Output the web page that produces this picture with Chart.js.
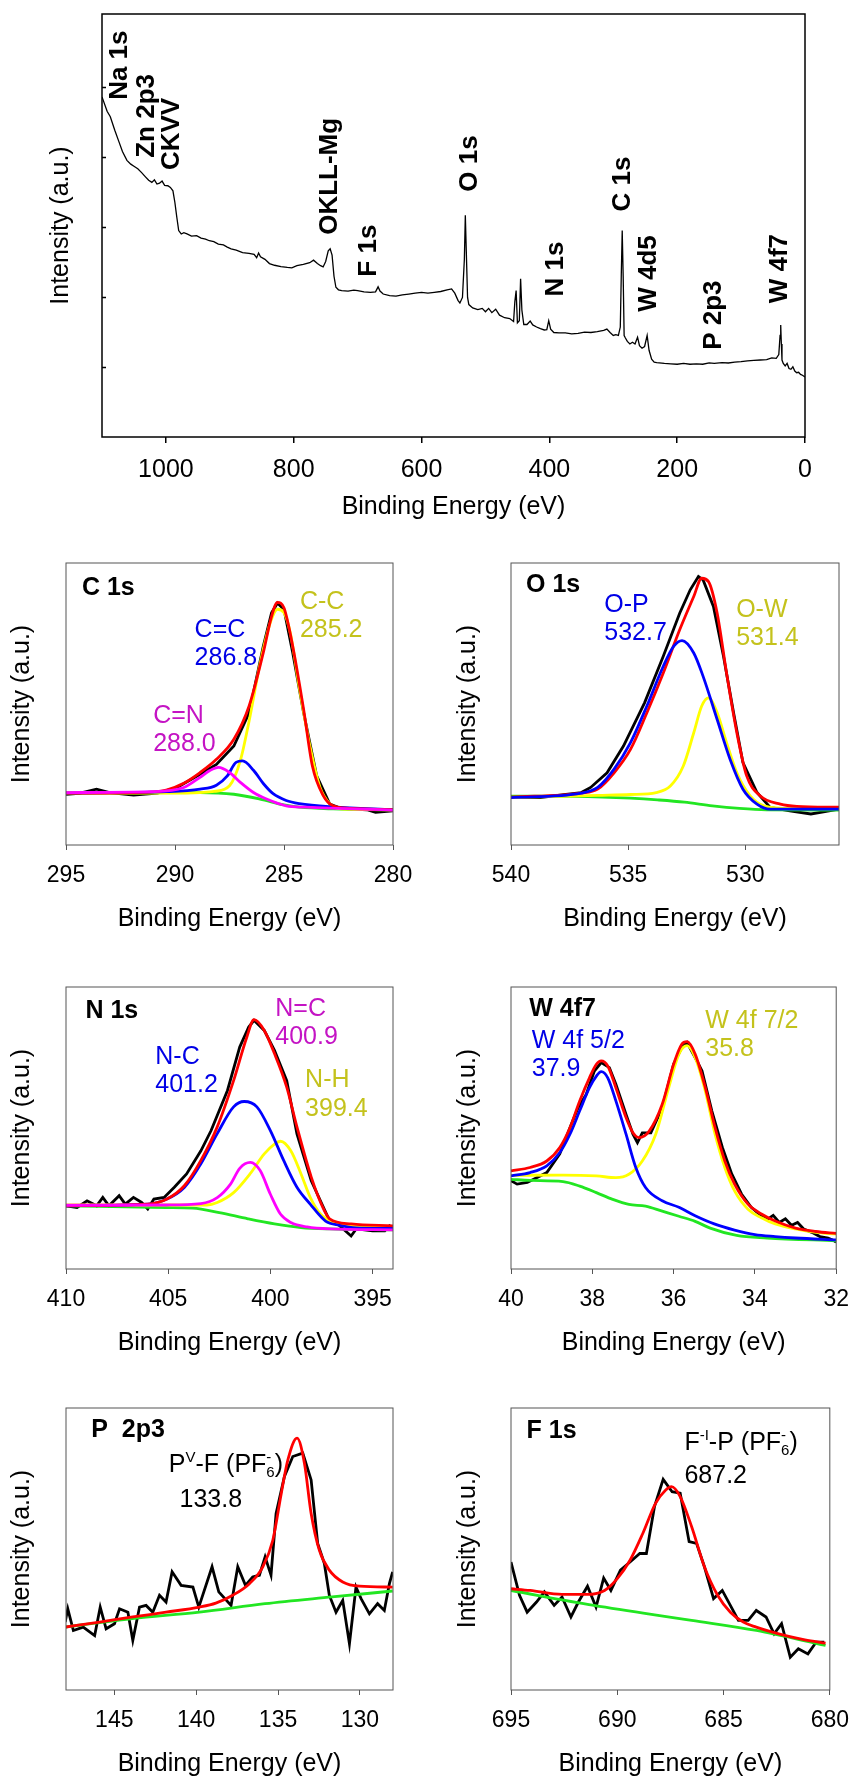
<!DOCTYPE html>
<html>
<head>
<meta charset="utf-8">
<script src="https://cdn.jsdelivr.net/npm/chart.js@4.4.1/dist/chart.umd.min.js"></script>
<style>
  body { margin: 0; background: #fff; width: 861px; height: 1780px; position: relative; overflow: hidden; }
  canvas { position: absolute; }
</style>
</head>
<body>
<canvas id="survey"></canvas>
<canvas id="c1s"></canvas>
<canvas id="o1s"></canvas>
<canvas id="n1s"></canvas>
<canvas id="w4f"></canvas>
<canvas id="p2p"></canvas>
<canvas id="f1s"></canvas>
<script>
// XPS spectra: [binding energy (eV), intensity (a.u., 0-100)]

// Survey
const surveyData = [
  [1100,80.4],[1092,77],[1087,75.7],[1080,72.5],[1074,70],[1068,67.5],[1061,65.4],[1055,64.5],[1050,64],[1044,63.4],
  [1038,62.5],[1032,61.5],[1027,60.7],[1022,60.2],[1018,60.8],[1014,59.8],[1010,60.0],[1006,60.5],[1002,59.5],[997,59.4],
  [993,59.0],[989,58.2],[986,55.5],[983,52],[980,48.8],[976,48.0],[972,48.3],[967,48.0],[960,47.5],[952,47.6],
  [945,47.0],[938,46.8],[932,46.4],[925,46.2],[918,45.6],[910,45.4],[904,44.9],[898,44.5],[890,44.2],[880,43.6],
  [870,43.4],[862,43.2],[858,42.4],[855,43.5],[852,42.6],[845,42.0],[838,41.0],[830,40.6],[820,40.3],[810,40.1],
  [803,40.0],[795,40.5],[785,40.8],[775,41.2],[769,41.8],[763,41.0],[758,40.5],[754,40.2],[750,41.5],[746,44.0],
  [743,44.5],[740,43],[737,38],[734,35.4],[730,34.8],[725,34.6],[715,34.5],[706,34.7],[700,34.6],[690,34.3],
  [680,34.2],[672,34.3],[668,35.5],[665,34.5],[660,33.8],[650,33.4],[640,33.3],[630,33.6],[620,33.8],[610,34.0],
  [600,34.2],[590,34.0],[580,34.2],[570,34.4],[560,34.8],[553,35.0],[548,34.0],[543,32.3],[540,31.7],[536,33.0],
  [533,42],[531.5,52.4],[530,44],[528,33],[526,31.3],[520,30.5],[512,30.1],[505,30.4],[500,29.6],[495,30.4],
  [490,29.4],[484,30.2],[478,28.8],[470,28.2],[462,28.0],[456,27.3],[454,32],[452,34.6],[450,27.0],[447,27.5],
  [445,37.4],[443,30],[440,26.6],[435,26.6],[430,27.4],[426,26.5],[420,26.0],[414,25.6],[408,25.3],[404,25.4],
  [401,27.5],[398,25.5],[393,24.7],[385,24.6],[375,24.6],[365,24.4],[355,24.5],[345,24.8],[335,24.7],[325,24.9],
  [315,25.2],[310,25.5],[305,24.7],[300,24.0],[296,24.2],[292,24.0],[289,26],[287.5,38],[286,48.8],[284.5,38],
  [283,24],[281,23.4],[278,22.6],[274,22.0],[270,22.4],[266,22.0],[262,23.6],[259,21.6],[255,21.0],[251,21.4],
  [247,24.0],[244,20.5],[240,18.4],[236,17.7],[232,17.6],[220,17.4],[210,17.3],[200,17.2],[190,17.4],[180,17.2],
  [170,17.3],[160,17.2],[150,17.5],[142,17.4],[130,17.6],[120,17.5],[110,17.7],[100,17.8],[90,18.0],[80,18.1],
  [70,18.2],[60,18.3],[52,18.7],[45,18.6],[41,19.5],[39,24],[38,26.5],[37,22],[36,18.2],[34,17.4],
  [31,16.8],[28,17.4],[25,16.2],[22,16.0],[19,16.6],[16,15.6],[13,15.2],[10,15.3],[7,14.8],[4,14.6],[0,14.2]
];
const surveyNotes = [
  ['Na 1s', 1072, 79.7], ['Zn 2p3', 1030, 66.0], ['CKVV', 991.5, 63.1], ['OKLL-Mg', 743.8, 47.8],
  ['F 1s', 682, 37.9], ['O 1s', 524.6, 58.0], ['N 1s', 389.7, 33.2], ['C 1s', 285.6, 53.3],
  ['W 4d5', 245, 29.6], ['P 2p3', 142.4, 20.6], ['W 4f7', 39, 31.6]
];

// C 1s
const c1sData = [[295,18.0],[294.4,18.3],[293.6,19.8],[293.0,18.6],[291.9,17.7],[290.8,18.4],[289.9,20.4],[288.85,25.1],[288.1,28.6],[287.3,35.1],[286.6,46.9],[285.95,70.5],[285.57,82.3],[285.3,85.8],[285.0,83.5],[284.6,68.2],[284.1,46.9],[283.5,24.5],[282.9,14.5],[282.4,13],[281.2,12.5],[280.8,11.6],[280,12.1]];
const c1sFit = [[295,18.4],[291.9,18.6],[290.4,19.5],[289.6,21.9],[288.85,25.7],[288.1,30.4],[287.3,37.5],[286.6,49.3],[285.95,68.2],[285.57,81.1],[285.3,86.0],[285.0,84.0],[284.6,70.5],[284.1,48.1],[283.7,28.1],[283.2,17.5],[282.75,13.9],[282.0,13],[280,12.5]];
const c1sCC = [[295,18.4],[290.4,18.4],[288.85,18.6],[288.2,19.0],[287.5,21],[287.0,30],[286.6,44],[286.1,64.2],[285.6,79.5],[285.3,83.6],[285.0,82.4],[284.7,74.8],[284.3,55.9],[283.8,34.7],[283.35,20.5],[282.9,14.6],[282.4,12.8],[280,12.5]];
const c1sCdC = [[295,18.4],[290.4,18.9],[288.85,19.8],[288.1,21.2],[287.6,24.5],[287.2,29.3],[286.9,29.8],[286.4,26.5],[285.95,21.8],[285.5,18.2],[284.9,15.8],[284.3,14.7],[282.75,13.5],[280,12.5]];
const c1sCN = [[295,18.6],[291.1,18.9],[289.6,20.4],[288.85,24],[288.4,26.4],[288.0,27.5],[287.5,25.7],[287.0,22.2],[286.4,18.6],[285.8,16.3],[284.9,13.9],[284.0,13.4],[280,12.4]];
const c1sBg = [[295,18.4],[288.85,18.6],[287.3,18.0],[286.1,16.3],[285.0,14.2],[284.3,13.4],[282.75,12.8],[280,12.5]];
const c1sNotes = [['C 1s',294.27,91,'title'],['C=C',289.1,76.3,'blue'],['286.8',289.1,66.3,'blue'],['C-C',284.27,86.3,'yellow'],['285.2',284.27,76.3,'yellow'],['C=N',291.0,45.7,'magenta'],['288.0',291.0,35.7,'magenta']];

// O 1s
const o1sData = [[540,16.8],[538.75,16.8],[537.75,17.9],[537.0,18.6],[536.6,20.4],[535.9,25.6],[535.2,35.1],[534.3,50.4],[533.5,66.9],[532.8,82.2],[532.35,90.5],[532.0,95.2],[531.8,94.0],[531.36,84.6],[530.93,66.9],[530.5,46.9],[530.1,29.2],[529.5,18.6],[528.94,13.3],[528.1,12.1],[527.2,11.0],[526.6,11.8],[526,12.7]];
const o1sFit = [[540,17],[537.0,18.4],[536.3,19.8],[535.6,25.6],[534.9,33.9],[534.2,46.9],[533.5,61],[532.8,76.3],[532.2,88.1],[531.86,94.6],[531.57,93.4],[531.2,82.2],[530.8,61],[530.36,39.8],[529.94,24.5],[529.37,17.5],[528.5,14.5],[527.8,13.7],[526,13.4]];
const o1sOP = [[540,16.8],[537.0,18.4],[536.3,20.4],[535.6,26.9],[534.9,36.3],[534.2,49.3],[533.5,63.4],[533.06,70.4],[532.7,72.5],[532.2,68.1],[531.8,59.8],[531.2,44.5],[530.65,30.4],[530.1,19.8],[529.5,14.5],[528.94,12.7],[526,12.7]];
const o1sOW = [[540,16.8],[536.3,17.6],[534.9,17.9],[533.8,18.6],[533.2,20.9],[532.65,27.9],[532.2,39.8],[531.86,49.3],[531.57,52.2],[531.2,46.9],[530.8,36.3],[530.36,25.6],[529.8,17.5],[529.2,13.9],[528.0,12.9],[526,12.9]];
const o1sBg = [[540,17.3],[538.4,17.3],[536.1,17.0],[534.9,16.6],[533.75,16.0],[532.6,15.2],[531.4,13.9],[530.25,13.0],[529.1,12.5],[526,12.4]];
const o1sNotes = [['O 1s',539.36,92.2,'title'],['O-P',536.02,85.2,'blue'],['532.7',536.02,75.2,'blue'],['O-W',530.39,83.4,'yellow'],['531.4',530.39,73.4,'yellow']];

// N 1s
const n1sData = [[410,22.4],[409.46,21.8],[408.97,24.2],[408.5,22.4],[408.2,25.4],[407.9,22.4],[407.4,26.0],[407.1,23.0],[406.7,25.4],[406.3,23.6],[406.0,21.3],[405.7,24.8],[405.2,25.4],[404.7,29.0],[404.1,33.7],[403.4,41.9],[402.9,49.1],[402.1,63.3],[401.5,78.7],[401.06,85.8],[400.8,88.2],[400.3,84.6],[399.8,77.5],[399.2,66.8],[398.7,47.9],[398.0,31.3],[397.4,21.8],[397.1,17.1],[396.6,15.3],[396.05,11.7],[395.8,14.2],[395.0,13.5],[394.4,13.5],[394.17,15.3],[394,14.6]];
const n1sFit = [[410,22.4],[406.0,23.0],[405.06,24.8],[404.2,29.6],[403.4,38.5],[402.6,50.4],[401.8,66.8],[401.15,82.3],[400.8,88.4],[400.3,84.6],[399.8,76.4],[399.2,64.5],[398.7,50.4],[398.0,32.6],[397.4,21.3],[397.1,17.8],[396.05,16.0],[394,15.3]];
const n1sNC = [[410,22.4],[406.0,23.0],[405.06,24.8],[404.2,29],[403.4,37.3],[402.6,48.0],[401.8,57.5],[401.28,59.4],[400.66,57.5],[400.0,49.1],[399.35,38.5],[398.7,29.0],[398.05,23],[397.3,17.0],[396.6,15.5],[395.8,14.6],[394,14.4]];
const n1sNH = [[410,22.7],[403.1,22.7],[402.6,23.6],[401.8,27.1],[401.0,33.7],[400.3,40.8],[399.8,44.3],[399.5,45.3],[399.0,41.9],[398.5,33.7],[398.05,25.4],[397.55,19.5],[396.9,16.5],[396,15.3],[394,15.0]];
const n1sNdC = [[410,22.6],[405.06,22.7],[403.4,23.2],[402.6,25.3],[401.96,30.0],[401.5,35.7],[400.98,37.8],[400.5,34.9],[400.0,26.5],[399.5,19.4],[399.0,16.5],[398.2,14.9],[397.1,14.2],[394,13.9]];
const n1sBg = [[410,22.4],[405.1,21.8],[403.8,21.6],[402.5,20.0],[401.1,17.8],[399.8,16.0],[398.5,14.7],[397.1,14.2],[394,13.9]];
const n1sNotes = [['N 1s',409.05,91.6,'title'],['N-C',405.63,75.2,'blue'],['401.2',405.63,65.1,'blue'],['N=C',399.76,92.1,'magenta'],['400.9',399.76,82.3,'magenta'],['N-H',398.3,66.9,'yellow'],['399.4',398.3,56.8,'yellow']];

// W 4f7
const w4fData = [[40,31.3],[39.85,30.1],[39.6,30.7],[39.37,32.4],[39.12,34.2],[38.8,40.8],[38.55,50.1],[38.35,57.2],[38.15,61.9],[37.95,70.2],[37.78,73.2],[37.58,71.4],[37.42,65.5],[37.17,54.8],[37.0,47.8],[36.89,44.8],[36.77,48.3],[36.56,48.3],[36.28,57.2],[36.0,72.6],[35.8,78.5],[35.67,80.3],[35.47,75],[35.3,70.2],[35.06,56.1],[34.8,43.1],[34.57,33.7],[34.33,26.6],[34.09,21.9],[33.9,19.5],[33.7,17.5],[33.55,19],[33.4,16.5],[33.25,17.8],[33.1,15.5],[32.95,16.5],[32.8,14.2],[32.6,13.0],[32.4,11.5],[32.2,11.0],[32.05,10.0],[32,9.5]];
const w4fFit = [[40,34.8],[39.53,36.0],[39.12,38.3],[38.8,43.1],[38.55,50.1],[38.31,59.6],[38.07,67.8],[37.9,72.6],[37.78,73.8],[37.62,72],[37.42,64.3],[37.17,53.7],[37.0,48.3],[36.85,46.6],[36.6,48.9],[36.28,58.4],[36.0,72.6],[35.8,79.7],[35.67,80.6],[35.47,76.2],[35.22,64.3],[34.98,50.1],[34.74,38.3],[34.5,30.1],[34.17,23.0],[33.84,19.5],[33.5,17.0],[33,14.5],[32.5,13.3],[32,12.6]];
const w4f52 = [[40,33.0],[39.53,34.2],[39.12,36.6],[38.8,41.3],[38.55,47.8],[38.31,56.1],[38.07,64.3],[37.9,68.4],[37.78,70.0],[37.62,67.8],[37.42,59.6],[37.17,47.8],[36.93,36],[36.69,28.9],[36.28,24.2],[35.87,21.9],[35.47,18.9],[35.0,16],[34.5,13.8],[34.0,12.2],[33.5,11.5],[33,11],[32,10.3]];
const w4f72 = [[40,33.2],[38.72,33.3],[37.9,33],[37.42,32.4],[37.1,33.6],[36.77,38.3],[36.44,47.8],[36.12,64.3],[35.87,76.2],[35.67,79.2],[35.47,75],[35.22,63.1],[34.98,47.8],[34.74,36.0],[34.5,27.7],[34.17,21.2],[33.84,18.2],[33.5,16.0],[33,14.2],[32.5,13.0],[32,12.4]];
const w4fBg = [[40,31.8],[39.53,31.4],[38.72,31.0],[38.31,29.4],[37.9,27.1],[37.5,24.7],[37.1,22.9],[36.69,22.3],[36.28,20.5],[35.87,18.7],[35.47,16.9],[35.1,14.5],[34.45,11.9],[33.7,11.0],[32,10]];
const w4fNotes = [['W 4f7',39.55,92.1,'title'],['W 4f 5/2',39.49,80.9,'blue'],['37.9',39.49,70.8,'blue'],['W 4f 7/2',35.22,87.9,'yellow'],['35.8',35.22,77.9,'yellow']];

// P 2p3
const p2pData = [[148,24.1],[147.84,28.8],[147.5,21.1],[146.9,22.3],[146.2,19.3],[145.86,29.4],[145.5,21.7],[144.99,23.5],[144.68,28.8],[144.17,27.6],[143.87,17.6],[143.46,29.4],[143.06,30.0],[142.65,27.6],[142.24,33.6],[141.84,31.2],[141.47,41.9],[140.92,37.1],[140.2,36.5],[139.84,29.4],[139.03,43.7],[138.62,34.8],[137.87,30.0],[137.46,43.7],[136.99,37.1],[136.55,40.1],[136.14,40.7],[135.79,47.2],[135.43,40.7],[135.12,62.6],[134.61,75.7],[134.1,82.8],[133.49,84.0],[132.98,74.5],[132.58,52.0],[132.17,44.8],[131.87,33.6],[131.46,27.6],[131.05,31.8],[130.64,16.4],[130.24,36.5],[129.93,32.4],[129.42,27.0],[128.92,30.6],[128.51,28.2],[128.2,37.7],[128,41.9]];
const p2pFit = [[148,22.3],[145.9,24.1],[143.87,25.9],[141.84,27.6],[139.8,29.4],[138.8,30.8],[137.77,33.6],[136.75,37.7],[135.93,43.7],[135.32,53.1],[134.8,69.8],[134.4,81.6],[133.84,89.3],[133.39,80.4],[132.98,62.6],[132.48,49.6],[131.87,42.5],[131.05,38.3],[130.03,36.8],[128,36.5]];
const p2pBg = [[148,22.3],[143.9,25.3],[139.8,27.6],[135.8,30.6],[131.7,33.0],[128,35.1]];
const p2pNotes = [['P  2p3',146.41,92.1,'title'],['P^{V}-F (PF_{6}^{-})',141.67,79.8,'plain'],['133.8',141.02,67.4,'plain']];

// F 1s
const f1sData = [[695,45.4],[694.6,33.6],[694.24,27.6],[693.8,31.2],[693.43,34.8],[692.97,30.0],[692.6,33.0],[692.18,25.9],[691.83,31.2],[691.4,36.8],[691.0,29.4],[690.64,39.7],[690.3,35.3],[689.85,42.5],[689.4,45.4],[688.94,48.4],[688.63,48.4],[688.25,65.0],[687.84,74.7],[687.42,70.3],[687.04,69.8],[686.62,52.6],[686.27,52.0],[685.9,43.7],[685.47,32.4],[685.06,35.3],[684.68,30.0],[684.3,24.7],[683.84,24.7],[683.46,28.2],[683.0,25.9],[682.62,19.9],[682.27,23.5],[681.86,11.6],[681.48,14.6],[681.03,12.8],[680.64,17.0],[680.26,17.0]];
const f1sFit = [[695,35.9],[694.1,35.3],[692.6,33.9],[691.4,33.9],[690.6,35.3],[690.0,39.5],[689.4,46.0],[688.8,55.5],[688.2,66.2],[687.72,70.9],[687.45,72.1],[687.04,68.6],[686.5,57.9],[685.9,43.7],[685.28,33.6],[684.68,27.6],[684.07,24.1],[683.46,22.3],[682.7,20.5],[681.93,19.0],[681.17,17.8],[680.2,16.6]];
const f1sBg = [[695,35.3],[691.1,30.0],[686.5,24.7],[683.46,21.1],[680.2,15.8]];
const f1sNotes = [['F 1s',694.27,91.7,'title'],['F^{-I}-P (PF_{6}^{-})',686.84,87.5,'plain'],['687.2',686.84,75.7,'plain']];

const FONT = "'Liberation Sans', Arial, sans-serif";
const COL = { black: '#000000', red: '#ff0000', blue: '#0000ff', yellow: '#ffff00', magenta: '#ff00ff', green: '#22e622' };
const NOTE_STYLE = {
  peak:    { size: 26, weight: 'bold',   color: '#000000', rotate: true },
  title:   { size: 25, weight: 'bold',   color: '#000000' },
  plain:   { size: 25, weight: 'normal', color: '#000000' },
  blue:    { size: 25, weight: 'normal', color: '#0000e6' },
  yellow:  { size: 25, weight: 'normal', color: '#c4c21c' },
  magenta: { size: 25, weight: 'normal', color: '#c414c4' }
};

// draw text with ^{sup} and _{sub} parts
function drawRich(ctx, text, st) {
  const parts = text.split(/(\^\{[^}]*\}|_\{[^}]*\})/).filter(Boolean);
  let cx = 0, subStart = null;
  parts.forEach(p => {
    if (p[0] === '^' || p[0] === '_') {
      const t = p.slice(2, -1);
      const sup = p[0] === '^';
      ctx.font = `${st.weight} ${Math.round(st.size * 0.6)}px ${FONT}`;
      const sx = (sup && subStart !== null) ? subStart : cx;
      ctx.fillText(t, sx, sup ? -st.size * 0.3 : st.size * 0.32);
      const w = ctx.measureText(t).width;
      if (sup) { cx = Math.max(cx, sx + w); subStart = null; }
      else { subStart = cx; cx += w; }
    } else {
      ctx.font = `${st.weight} ${st.size}px ${FONT}`;
      ctx.fillText(p, cx, 0);
      cx += ctx.measureText(p).width;
      subStart = null;
    }
  });
}

function notesPlugin(items, defStyle) {
  return {
    id: 'notes',
    afterDraw(chart) {
      const { ctx, scales: { x, y } } = chart;
      items.forEach(item => {
        const st = NOTE_STYLE[item[3] || defStyle];
        ctx.save();
        ctx.translate(x.getPixelForValue(item[1]), y.getPixelForValue(item[2]));
        if (st.rotate) ctx.rotate(-Math.PI / 2);
        ctx.fillStyle = st.color;
        ctx.textAlign = 'left';
        ctx.textBaseline = 'middle';
        drawRich(ctx, item[0], st);
        ctx.restore();
      });
    }
  };
}

function framePlugin(color, width, yTicks) {
  return {
    id: 'frame',
    afterDatasetsDraw(chart) {
      const { ctx, chartArea: a, scales } = chart;
      ctx.save();
      ctx.strokeStyle = color;
      ctx.lineWidth = width;
      ctx.strokeRect(a.left, a.top, a.right - a.left, a.bottom - a.top);
      if (yTicks) {
        ctx.beginPath();
        scales.y.ticks.forEach(t => {
          if (t.value < 1 || t.value > 95) return;
          const py = Math.round(scales.y.getPixelForValue(t.value)) + 0.5;
          ctx.moveTo(a.left, py);
          ctx.lineTo(a.left + 4, py);
        });
        ctx.stroke();
      }
      ctx.restore();
    }
  };
}

function buildChart(cfg) {
  const cv = document.getElementById(cfg.id);
  cv.width = cfg.w; cv.height = cfg.h;
  cv.style.left = cfg.left + 'px'; cv.style.top = cfg.top + 'px';
  cv.style.width = cfg.w + 'px'; cv.style.height = cfg.h + 'px';

  const datasets = cfg.series.map(s => ({
    data: s.pts.map(p => ({ x: p[0], y: p[1] })),
    borderColor: s.color,
    borderWidth: s.width,
    pointRadius: 0,
    fill: false,
    tension: s.smooth ? 0.4 : 0,
    cubicInterpolationMode: s.smooth ? 'monotone' : 'default'
  }));

  return new Chart(cv, {
    type: 'line',
    data: { datasets },
    options: {
      responsive: false,
      animation: false,
      events: [],
      layout: { padding: { top: cfg.padTop, right: cfg.padRight, left: 0, bottom: 0 } },
      plugins: { legend: { display: false }, tooltip: { enabled: false } },
      scales: {
        x: {
          type: 'linear', min: cfg.xmin, max: cfg.xmax, reverse: true,
          afterFit: s => { s.height = cfg.xHeight; },
          border: { display: false },
          grid: { display: true, drawOnChartArea: false, drawTicks: true, tickLength: cfg.tickLen, color: cfg.frameColor, lineWidth: cfg.tickWidth },
          ticks: {
            stepSize: cfg.step, includeBounds: false, autoSkip: false, maxRotation: 0,
            padding: 12, color: '#000', font: { family: FONT, size: cfg.tickSize },
            callback: v => String(v)
          },
          title: { display: true, text: 'Binding Energy (eV)', color: '#000', font: { family: FONT, size: 25 }, padding: { top: 0, bottom: cfg.xTitlePad } }
        },
        y: {
          type: 'linear', min: 0, max: 100,
          afterFit: s => { s.width = cfg.yWidth; },
          border: { display: false },
          grid: { display: false },
          ticks: { display: false, stepSize: cfg.yStep || 20 },
          title: { display: true, text: 'Intensity (a.u.)', color: '#000', font: { family: FONT, size: 25 }, padding: { top: cfg.yTitlePad, bottom: 0 } }
        }
      }
    },
    plugins: [framePlugin(cfg.frameColor, cfg.frameWidth, cfg.yTicks), notesPlugin(cfg.notes, cfg.noteStyle)]
  });
}

// survey
buildChart({
  id: 'survey', left: 0, top: 0, w: 861, h: 530,
  padTop: 14, padRight: 56, yWidth: 102, xHeight: 93,
  xmin: 0, xmax: 1100, step: 200, tickSize: 25, tickLen: 6, tickWidth: 1.5,
  xTitlePad: 8, yTitlePad: 46, yStep: 16.55, yTicks: true,
  frameColor: '#000', frameWidth: 1.5,
  series: [{ pts: surveyData, color: COL.black, width: 1.3 }],
  notes: surveyNotes, noteStyle: 'peak'
});

// detail panels
const LEFT = { left: 0, w: 430, yWidth: 66, padRight: 37, yTitlePad: 7 };
const RIGHT = { left: 430, w: 431, yWidth: 81, padRight: 22, yTitlePad: 23 };
const ROWS = [563, 987, 1408];

function panel(id, col, row, xmin, xmax, step, series, notes) {
  buildChart(Object.assign({}, col, {
    id, top: ROWS[row] - 20, h: 396,
    padTop: 20, xHeight: 94,
    xmin, xmax, step, tickSize: 23, tickLen: 5, tickWidth: 1,
    xTitlePad: 5, yTicks: false,
    frameColor: '#555', frameWidth: 1,
    series, notes
  }));
}

const fitLine = (pts, color) => ({ pts, color, width: 2.8, smooth: true });
const rawLine = pts => ({ pts, color: COL.black, width: 2.8 });

panel('c1s', LEFT, 0, 280, 295, 5,
  [fitLine(c1sCN, COL.magenta), fitLine(c1sFit, COL.red), fitLine(c1sCdC, COL.blue), fitLine(c1sCC, COL.yellow), fitLine(c1sBg, COL.green), rawLine(c1sData)],
  c1sNotes);
panel('o1s', RIGHT, 0, 526, 540, 5,
  [fitLine(o1sOP, COL.blue), fitLine(o1sFit, COL.red), fitLine(o1sOW, COL.yellow), fitLine(o1sBg, COL.green), rawLine(o1sData)],
  o1sNotes);
panel('n1s', LEFT, 1, 394, 410, 5,
  [fitLine(n1sNdC, COL.magenta), fitLine(n1sFit, COL.red), fitLine(n1sNC, COL.blue), fitLine(n1sNH, COL.yellow), fitLine(n1sBg, COL.green), rawLine(n1sData)],
  n1sNotes);
panel('w4f', RIGHT, 1, 32, 40, 2,
  [fitLine(w4fFit, COL.red), fitLine(w4f52, COL.blue), fitLine(w4f72, COL.yellow), fitLine(w4fBg, COL.green), rawLine(w4fData)],
  w4fNotes);
panel('p2p', LEFT, 2, 127.98, 147.95, 5,
  [fitLine(p2pFit, COL.red), fitLine(p2pBg, COL.green), rawLine(p2pData)],
  p2pNotes);
panel('f1s', RIGHT, 2, 680, 695, 5,
  [fitLine(f1sFit, COL.red), fitLine(f1sBg, COL.green), rawLine(f1sData)],
  f1sNotes);
</script>
</body>
</html>
